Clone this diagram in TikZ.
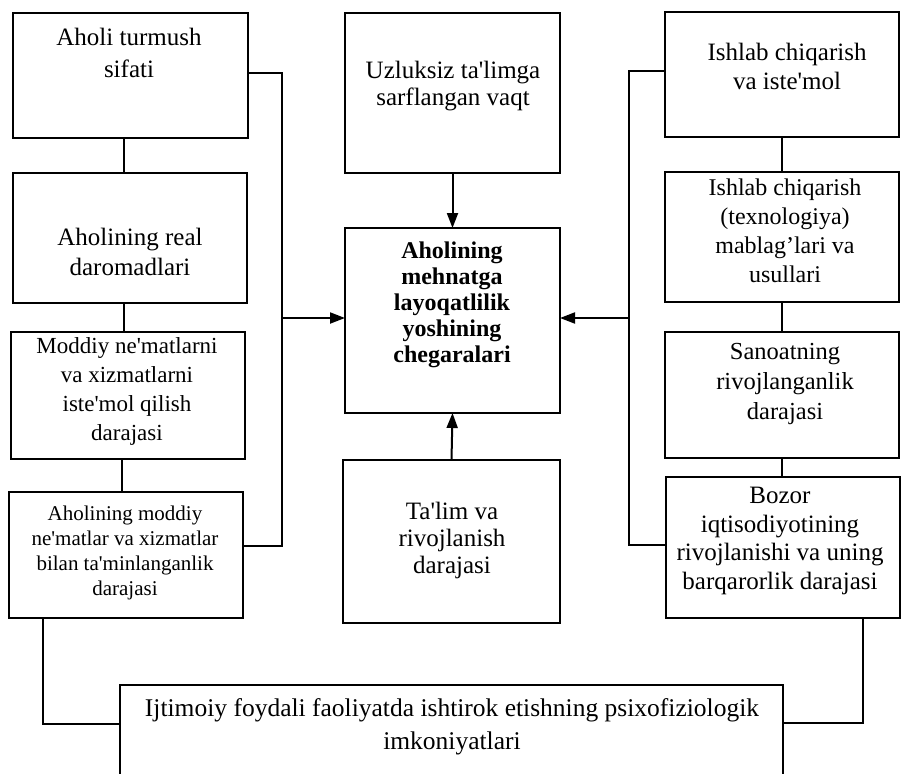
\documentclass[tikz,border=0pt]{standalone}
\usepackage{fontspec}
\setmainfont{Liberation Serif}
\usetikzlibrary{arrows.meta}
\newcommand{\apos}{\textquotesingle}
\begin{document}
\begin{tikzpicture}[x=1pt,y=-1pt,
  box/.style={draw, line width=2pt, inner sep=0pt, outer sep=0pt, anchor=north west},
  txt/.style={inner sep=0pt, align=center},
  conn/.style={line width=2pt},
  arr/.style={conn, -{Triangle[length=15pt,width=11pt]}}]
\useasboundingbox (0,0) rectangle (901,773);
\fill[white] (0,0) rectangle (901,773);
\clip (0,0) rectangle (901,773);

% left column
\node[box, minimum width=235pt, minimum height=125pt] (L1) at (13,13) {};
\node[box, minimum width=234pt, minimum height=130pt] (L2) at (13,173) {};
\node[box, minimum width=234pt, minimum height=127pt] (L3) at (11,332) {};
\node[box, minimum width=234pt, minimum height=126pt] (L4) at (9,492) {};
% centre column
\node[box, minimum width=215pt, minimum height=160pt] (C1) at (345,13) {};
\node[box, minimum width=215pt, minimum height=185pt] (C2) at (345,228) {};
\node[box, minimum width=217pt, minimum height=163pt] (C3) at (343,460) {};
% right column
\node[box, minimum width=234pt, minimum height=125pt] (R1) at (665,12) {};
\node[box, minimum width=234pt, minimum height=130pt] (R2) at (665,172) {};
\node[box, minimum width=234pt, minimum height=126pt] (R3) at (665,332) {};
\node[box, minimum width=234pt, minimum height=141pt] (R4) at (666,477) {};
% bottom
\node[box, minimum width=663pt, minimum height=150pt] (B) at (120,685) {};

% texts
\node[txt, font=\fontsize{25}{32}\selectfont] (tL1) at (129,53) {Aholi turmush\\sifati};
\node[txt, font=\fontsize{25}{30}\selectfont] (tL2) at (130,252) {Aholining real\\daromadlari};
\node[txt, font=\fontsize{23}{29}\selectfont] (tL3) at (127,391) {Moddiy ne\apos matlarni\\va xizmatlarni\\iste\apos mol qilish\\darajasi};
\node[txt, font=\fontsize{21}{25}\selectfont] (tL4) at (125,553) {Aholining moddiy\\ne\apos matlar va xizmatlar\\bilan ta\apos minlanganlik\\darajasi};
\node[txt, font=\fontsize{25}{27}\selectfont] (tC1) at (453,86) {Uzluksiz ta\apos limga\\sarflangan vaqt};
\node[txt, font=\fontsize{24}{26}\selectfont\bfseries] (tC2) at (452,305) {Aholining\\mehnatga\\layoqatlilik\\yoshining\\chegaralari};
\node[txt, font=\fontsize{25}{27}\selectfont] (tC3) at (452,540) {Ta\apos lim va\\rivojlanish\\darajasi};
\node[txt, font=\fontsize{25}{29}\selectfont] (tR1) at (787,66) {Ishlab chiqarish\\va iste\apos mol};
\node[txt, font=\fontsize{24}{29}\selectfont] (tR2) at (785,231) {Ishlab chiqarish\\(texnologiya)\\mablag’lari va\\usullari};
\node[txt, font=\fontsize{24.5}{30}\selectfont] (tR3) at (785,384) {Sanoatning\\rivojlanganlik\\darajasi};
\node[txt, font=\fontsize{25}{28.5}\selectfont] (tR4) at (780,541) {Bozor\\iqtisodiyotining\\rivojlanishi va uning\\barqarorlik darajasi};
\node[txt, font=\fontsize{25.5}{33}\selectfont] (tB) at (452,727) {Ijtimoiy foydali faoliyatda ishtirok etishning psixofiziologik\\imkoniyatlari};

% helper coordinates
\coordinate (xl) at (124,0);
\coordinate (busL) at (282,0);
\coordinate (busR) at (629,0);
\coordinate (jL) at (43,724);
\coordinate (jR) at (863,723);
\coordinate (pL1) at ([yshift=2.5pt]L1.east);
\coordinate (pL4) at ([yshift=9pt]L4.east);
\coordinate (pR1) at ([yshift=3.5pt]R1.west);
\coordinate (pR4) at ([yshift=2.5pt]R4.west);
\coordinate (pCw) at ([yshift=2.5pt]C2.west);
\coordinate (pCe) at ([yshift=2.5pt]C2.east);

% left chain
\draw[conn] (L1.south -| xl) -- (L2.north -| xl);
\draw[conn] (L2.south -| xl) -- (L3.north -| xl);
\draw[conn] ([xshift=-2pt]L3.south -| xl) -- ([xshift=-2pt]L4.north -| xl);
% right chain
\draw[conn] (R1.south) -- (R2.north);
\draw[conn] (R2.south) -- (R3.north);
\draw[conn] (R3.south) -- (R4.north -| R3.south);

% left bus
\draw[conn] (pL1) -| (busL |- pL4) -- (pL4);
\draw[arr] (busL |- pCw) -- (pCw);
% right bus
\draw[conn] (pR1) -| (busR |- pR4) -- (pR4);
\draw[arr] (busR |- pCe) -- (pCe);

% centre arrows
\draw[arr] (C1.south) -- (C2.north);
\draw[arr] (C3.north) -- (C2.south);

% bottom links
\draw[conn] (L4.south -| jL) -- (jL) -- (B.west |- jL);
\draw[conn] (R4.south -| jR) -- (jR) -- (B.east |- jR);
\end{tikzpicture}
\end{document}
